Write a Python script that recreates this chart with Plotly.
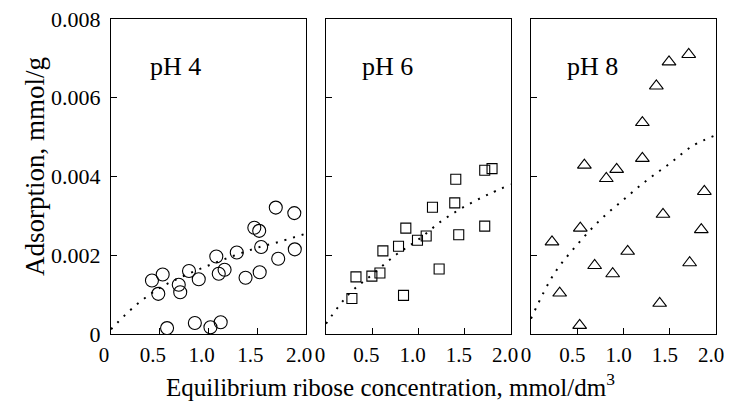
import plotly.graph_objects as go

# window is 732x407 but the page body has an 8px default margin
OFF = 8
W, H = 732 - OFF, 407 - OFF

# ---- data ----
ph4_x = [0.42, 0.53, 0.485, 0.575, 0.695, 0.71, 0.80, 0.90, 0.86, 1.02, 1.08, 1.105,
         1.125, 1.165, 1.29, 1.38, 1.47, 1.52, 1.54, 1.525, 1.69, 1.715, 1.88, 1.885]
ph4_y = [0.00136, 0.00151, 0.00102, 0.00015, 0.00125, 0.00106, 0.00160, 0.00139,
         0.00028, 0.00017, 0.00197, 0.00153, 0.00030, 0.00163, 0.00207, 0.00143,
         0.00270, 0.00262, 0.00221, 0.00157, 0.00321, 0.00191, 0.00307, 0.00215]

ph6_x = [0.28, 0.324, 0.496, 0.583, 0.615, 0.784, 0.863, 0.838, 0.989, 1.083, 1.151,
         1.223, 1.403, 1.392, 1.435, 1.716, 1.795, 1.716]
ph6_y = [0.00090, 0.00145, 0.00147, 0.00155, 0.00211, 0.00223, 0.00269, 0.00098,
         0.00238, 0.00249, 0.00322, 0.00165, 0.00393, 0.00333, 0.00252, 0.00416,
         0.00420, 0.00274]

ph8_x = [0.227, 0.31, 0.526, 0.533, 0.577, 0.688, 0.814, 0.883, 0.926, 1.045, 1.204,
         1.204, 1.355, 1.391, 1.427, 1.492, 1.705, 1.715, 1.841, 1.874]
ph8_y = [0.00234, 0.00104, 0.00022, 0.00269, 0.00429, 0.00174, 0.00395, 0.00153,
         0.00418, 0.00210, 0.00537, 0.00446, 0.00630, 0.00078, 0.00304, 0.00691,
         0.00710, 0.00181, 0.00265, 0.00362]

curve_x = [0, 0.25, 0.5, 0.75, 1.0, 1.25, 1.5, 1.75, 2.0]
ph4_fit = [0.00012, 0.00072, 0.00117, 0.00148, 0.00174, 0.00198, 0.00219, 0.00236, 0.00255]
ph6_fit = [0.00026, 0.00102, 0.00151, 0.00200, 0.00240, 0.00287, 0.00324, 0.00354, 0.00380]
ph8_fit = [0.00039, 0.00153, 0.00227, 0.00290, 0.00341, 0.00390, 0.00433, 0.00478, 0.00505]

xtick_vals = [0, 0.5, 1.0, 1.5, 2.0]
xtick_text = ["0", "0.5", "1.0", "1.5", "2.0"]
ytick_vals = [0, 0.002, 0.004, 0.006, 0.008]
ytick_text = ["0", "0.002", "0.004", "0.006", "0.008"]

panel_labels = ["pH 4", "pH 6", "pH 8"]
x_title = "Equilibrium ribose concentration, mmol/dm<sup>3</sup>"
y_title = "Adsorption, mmol/g"

FONT = "Liberation Serif"

# panel pixel extents (screen pixels)
px_left = [111, 326, 531]
px_right = [306, 511, 716]
py_top, py_bot = 19, 334
label_shift = [-7, -6, -5]


def fx(px):
    return (px - OFF) / W


def fy(py):
    return (H - (py - OFF)) / H


fig = go.Figure()

series = [(ph4_x, ph4_y, ph4_fit, "circle-open", 13),
          (ph6_x, ph6_y, ph6_fit, "square-open", 10),
          (ph8_x, ph8_y, ph8_fit, "triangle-up-open", 12)]

for i, (sx, sy, fit, sym, msz) in enumerate(series):
    xa = "x" if i == 0 else f"x{i+1}"
    ya = "y" if i == 0 else f"y{i+1}"
    fig.add_trace(go.Scatter(x=curve_x, y=fit, mode="lines", xaxis=xa, yaxis=ya,
                             line=dict(color="black", width=2, dash="2px,7px", shape="spline"),
                             showlegend=False, hoverinfo="skip"))
    fig.add_trace(go.Scatter(x=sx, y=sy, mode="markers", xaxis=xa, yaxis=ya,
                             marker=dict(symbol=sym, size=msz, color="black",
                                         line=dict(color="black", width=1.1)),
                             showlegend=False))
    dom_x = [fx(px_left[i]), fx(px_right[i])]
    dom_y = [fy(py_bot), fy(py_top)]
    xkey = "xaxis" if i == 0 else f"xaxis{i+1}"
    ykey = "yaxis" if i == 0 else f"yaxis{i+1}"
    fig.update_layout(**{
        xkey: dict(domain=dom_x, range=[0, 2.0], anchor=ya, automargin=False,
                   tickvals=xtick_vals, ticktext=xtick_text, ticks="inside", ticklen=6,
                   tickcolor="black", showline=True, linecolor="black", linewidth=1,
                   mirror=True, showgrid=False, zeroline=False, ticklabelstandoff=2,
                   ticklabeloverflow="allow", ticklabelshift=label_shift[i],
                   tickfont=dict(family=FONT, size=21, color="black")),
        ykey: dict(domain=dom_y, range=[0, 0.008], anchor=xa, automargin=False,
                   tickvals=ytick_vals, ticktext=ytick_text,
                   showticklabels=(i == 0), ticks="inside", ticklen=6,
                   tickcolor="black", showline=True, linecolor="black", linewidth=1,
                   mirror=True, showgrid=False, zeroline=False, ticklabelstandoff=5,
                   ticklabeloverflow="allow",
                   tickfont=dict(family=FONT, size=22, color="black")),
    })
    fig.add_annotation(x=0.66, y=0.0068, xref=xa, yref=ya, text=panel_labels[i],
                       showarrow=False, xanchor="center", yanchor="middle",
                       font=dict(family=FONT, size=26, color="black"))

fig.add_annotation(x=fx(390), y=fy(385), xref="paper", yref="paper",
                   text=x_title, showarrow=False, xanchor="center", yanchor="middle",
                   font=dict(family=FONT, size=25, color="black"))
fig.add_annotation(x=fx(35), y=fy(167), xref="paper", yref="paper",
                   text=y_title, showarrow=False, textangle=-90,
                   xanchor="center", yanchor="middle",
                   font=dict(family=FONT, size=27, color="black"))

fig.update_layout(width=W, height=H, margin=dict(l=0, r=0, t=0, b=0),
                  paper_bgcolor="white", plot_bgcolor="white", showlegend=False)

fig.write_html("out.html")
